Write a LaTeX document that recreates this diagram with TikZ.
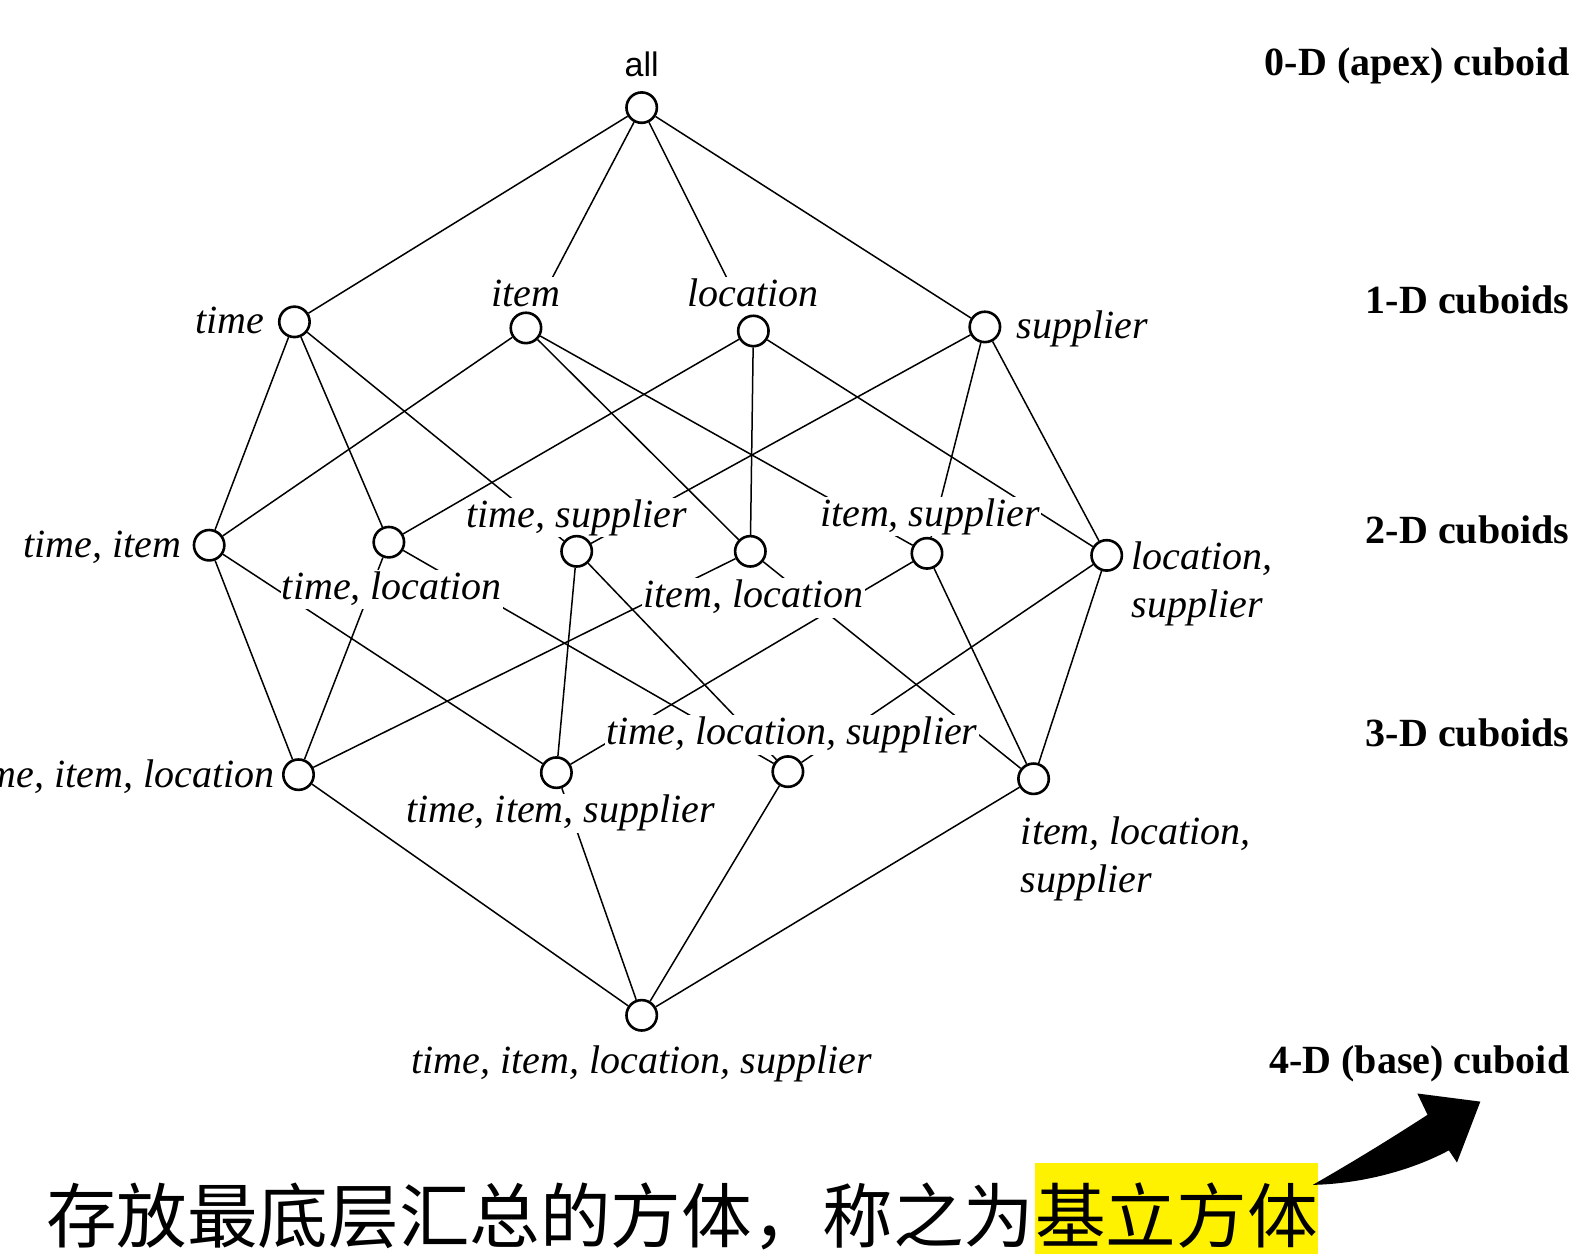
\documentclass[tikz,border=0pt]{standalone}
\usepackage{fontspec}
\setmainfont{Liberation Serif}
\newfontfamily\cjkfont{Noto Sans CJK SC}
\newfontfamily\lsansfont{Liberation Sans}
\pgfdeclarelayer{edgelayer}
\pgfdeclarelayer{labellayer}
\pgfsetlayers{edgelayer,labellayer,main}
\begin{document}
\begin{tikzpicture}[x=0.50765pt,y=-0.50765pt,
  vert/.style={circle,draw,line width=1.3pt,fill=white,minimum size=15.2pt,inner sep=0pt},
  lbl/.style={font=\fontsize{20}{24}\selectfont\itshape,fill=white,inner sep=0.6pt,text height=14pt,text depth=4.4pt},
  lbltwo/.style={font=\fontsize{20}{24}\selectfont\itshape,fill=white,inner sep=0.6pt,align=left},
  lvl/.style={font=\fontsize{20}{24}\selectfont\bfseries,anchor=east,inner sep=0pt,text height=14pt,text depth=4.4pt},
  edge/.style={line width=0.75pt},
  cn/.style={font=\cjkfont\fontsize{35.3}{40}\selectfont,inner sep=0pt}]
\useasboundingbox (0,0) rectangle (1568,1241);
% vertices
\node[vert] (all) at (632,106) {};
\node[vert] (t) at (290,317) {};
\node[vert] (i) at (518,323) {};
\node[vert] (l) at (742,326) {};
\node[vert] (s) at (970,322) {};
\node[vert] (ti) at (206,537) {};
\node[vert] (tl) at (383,534) {};
\node[vert] (ts) at (568,543) {};
\node[vert] (il) at (739,543) {};
\node[vert] (is) at (913,545) {};
\node[vert] (ls) at (1090,547) {};
\node[vert] (til) at (294,763) {};
\node[vert] (tis) at (548,761) {};
\node[vert] (tls) at (776,760) {};
\node[vert] (ils) at (1018,767) {};
\node[vert] (tils) at (632,1000) {};
% edges
\begin{pgfonlayer}{edgelayer}
\foreach \a/\b in {all/t,all/i,all/l,all/s,
  t/ti,t/tl,t/ts,i/ti,i/il,i/is,l/tl,l/il,l/ls,s/ts,s/is,s/ls,
  ti/til,ti/tis,tl/til,tl/tls,ts/tis,ts/tls,il/til,il/ils,is/tis,is/ils,ls/tls,ls/ils,
  til/tils,tis/tils,tls/tils,ils/tils}
  \draw[edge] (\a) -- (\b);
\end{pgfonlayer}
% labels
\begin{pgfonlayer}{labellayer}
\node[font=\lsansfont\fontsize{17}{20}\selectfont,inner sep=0pt] (Lall) at (632,63) {all};
\node[lbl] (Lt) at (226,319) {time};
\node[lbl] (Li) at (518,292) {item};
\node[lbl] (Ll) at (742,292) {location};
\node[lbl] (Ls) at (1066,324) {supplier};
\node[lbl,anchor=east] (Lti) at (180,540) {time, item};
\node[lbl] (Ltl) at (386,581) {time, location};
\node[lbl] (Lts) at (568,510) {time, supplier};
\node[lbl] (Lil) at (742,589) {item, location};
\node[lbl] (Lis) at (916,509) {item, supplier};
\node[lbltwo,anchor=west] (Lls) at (1113,575) {location,\\supplier};
\node[lbl,anchor=east] (Ltil) at (272,766) {time, item, location};
\node[lbl] (Ltis) at (552,801) {time, item, supplier};
\node[lbl] (Ltls) at (780,724) {time, location, supplier};
\node[lbltwo,anchor=west] (Lils) at (1004,846) {item, location,\\supplier};
\node[lbl] (Ltils) at (632,1048) {time, item, location, supplier};
\end{pgfonlayer}
% level labels
\node[lvl] (d0) at (1546,65) {0-D (apex) cuboid};
\node[lvl] (d1) at (1546,299) {1-D cuboids};
\node[lvl] (d2) at (1546,526) {2-D cuboids};
\node[lvl] (d3) at (1546,726) {3-D cuboids};
\node[lvl] (d4) at (1546,1048) {4-D (base) cuboid};
% chinese caption
\node[cn,anchor=base west] (cap) at (45,1224) {存放最底层汇总的方体，称之为};
\node[cn,anchor=base west,fill=yellow,text height=40.1pt,text depth=5.6pt] (hl) at (cap.base east) {基立方体};
% fat curved arrow
\coordinate (atail) at (1293,1167);
\coordinate (ahead) at (1458,1085);
\fill (atail) .. controls (1340,1140) and (1375,1118) .. (1406,1098)
  -- (1396,1077) -- (ahead) -- (1435,1145) -- (1427,1133)
  .. controls (1390,1153) and (1340,1166) .. (atail) -- cycle;
\end{tikzpicture}
\end{document}
